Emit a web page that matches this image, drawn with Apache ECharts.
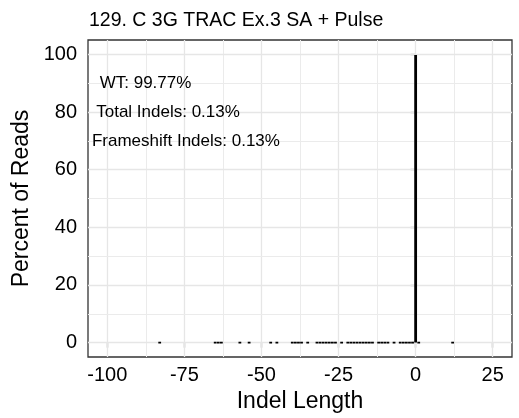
<!DOCTYPE html>
<html>
<head>
<meta charset="utf-8">
<script src="https://cdn.jsdelivr.net/npm/echarts@6/dist/echarts.min.js"></script>
<style>
html,body{margin:0;padding:0;background:#fff;}
#chart{width:519px;height:418px;}
</style>
</head>
<body>
<div id="chart"></div>
<script>
// ---- data ----
const chartTitle = '129. C 3G TRAC Ex.3 SA + Pulse';
const indelLengths = [-83, -65, -64, -63, -57, -54, -47, -45, -40, -39, -38, -37, -35,
  -32, -31, -30, -29, -28, -27, -26, -24, -22, -21, -20, -19, -18, -17, -16, -15, -14,
  -12, -11, -10, -9, -7, -5, -4, -3, -2, -1, 0, 1, 12];
const indelPercents = [0.01, 0.01, 0.01, 0.01, 0.01, 0.01, 0.01, 0.01, 0.01, 0.01, 0.01, 0.01, 0.01,
  0.01, 0.01, 0.01, 0.01, 0.01, 0.01, 0.01, 0.01, 0.01, 0.01, 0.01, 0.01, 0.01, 0.01, 0.01, 0.01, 0.01,
  0.01, 0.01, 0.01, 0.01, 0.01, 0.01, 0.01, 0.01, 0.01, 0.01, 99.77, 0.01, 0.01];
const xTicks = [-100, -75, -50, -25, 0, 25];
const xMinorTicks = [-87.5, -62.5, -37.5, -12.5, 12.5];
const yTicks = [0, 20, 40, 60, 80, 100];
const yMinorTicks = [10, 30, 50, 70, 90];
const annotTexts = ['WT: 99.77%', 'Total Indels: 0.13%', 'Frameshift Indels: 0.13%'];
const annotX = [-87.6, -80.3, -74.5];
const annotY = [90, 80, 70];

const FONT = "'Liberation Sans', Arial, Helvetica, sans-serif";
const chart = echarts.init(document.getElementById('chart'), null, {renderer: 'canvas'});

const gridMajor = {color: '#e6e6e6', width: 1.3, type: 'solid'};
const gridMinor = {color: '#ebebeb', width: 1.0, type: 'solid'};
const gridLineData = []
  .concat(xTicks.map(v => ({xAxis: v, lineStyle: gridMajor})))
  .concat(xMinorTicks.map(v => ({xAxis: v, lineStyle: gridMinor})))
  .concat(yTicks.map(v => ({yAxis: v, lineStyle: gridMajor})))
  .concat(yMinorTicks.map(v => ({yAxis: v, lineStyle: gridMinor})));

const option = {
  backgroundColor: '#ffffff',
  animation: false,
  title: {
    text: chartTitle,
    left: 84,
    top: 6,
    textStyle: {fontFamily: FONT, fontSize: 19.5, fontWeight: 'normal', color: '#000'}
  },
  grid: {
    left: 88, top: 40, width: 424, height: 317,
    show: true, borderColor: '#333333', borderWidth: 1.3, backgroundColor: '#ffffff'
  },
  xAxis: {
    type: 'value',
    min: -106.25, max: 31.25,
    name: 'Indel Length',
    nameLocation: 'middle',
    nameGap: 33,
    nameTextStyle: {fontFamily: FONT, fontSize: 23, color: '#000'},
    axisLine: {show: false},
    axisTick: {show: true, length: 5, lineStyle: {color: '#333', width: 1.2}, customValues: xTicks},
    axisLabel: {customValues: xTicks, fontFamily: FONT, fontSize: 20, color: '#000', margin: 8},
    splitLine: {show: false}
  },
  yAxis: {
    type: 'value',
    min: -5, max: 105,
    name: 'Percent of Reads',
    nameLocation: 'middle',
    nameGap: 45,
    nameTextStyle: {fontFamily: FONT, fontSize: 23, color: '#000'},
    axisLine: {show: false},
    axisTick: {show: true, length: 5, lineStyle: {color: '#333', width: 1.2}, customValues: yTicks},
    axisLabel: {customValues: yTicks, fontFamily: FONT, fontSize: 20, color: '#000', margin: 11},
    splitLine: {show: false}
  },
  series: [
    {
      type: 'line',
      data: [],
      z: 1,
      silent: true,
      markLine: {
        z: 1,
        silent: true,
        symbol: ['none', 'none'],
        label: {show: false},
        emphasis: {disabled: true},
        animation: false,
        data: gridLineData
      }
    },
    {
      type: 'bar',
      z: 3,
      barWidth: 2.8,
      data: indelLengths.map((x, i) => [x, indelPercents[i]]),
      itemStyle: {color: '#1c2b3c', borderColor: '#000000', borderWidth: 1.8}
    },
    {
      type: 'scatter',
      z: 4,
      symbolSize: 0,
      silent: true,
      itemStyle: {opacity: 1},
      data: annotTexts.map((t, i) => ({name: t, value: [annotX[i], annotY[i]]})),
      label: {
        show: true, position: 'inside', formatter: '{b}', opacity: 1,
        fontFamily: FONT, fontSize: 17, color: '#000', textBorderWidth: 0
      }
    }
  ]
};
chart.setOption(option);
</script>
</body>
</html>
